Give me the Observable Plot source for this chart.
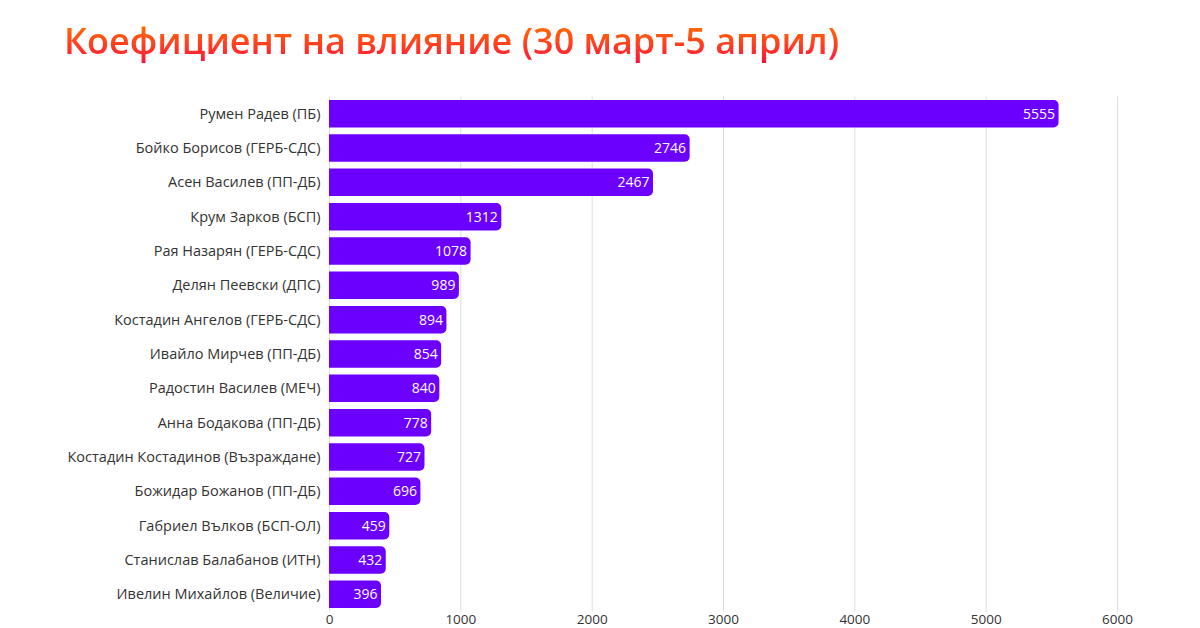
<!DOCTYPE html>
<html><head><meta charset="utf-8">
<script src="https://cdn.jsdelivr.net/npm/d3@7"></script>
<script src="https://cdn.jsdelivr.net/npm/@observablehq/plot@0.6"></script>
<style>
html,body{margin:0;padding:0;background:#fff;width:1200px;height:628px;overflow:hidden;}
#title{height:80px;box-sizing:border-box;padding:16px 0 0 64px;font-family:"Open Sans",sans-serif;font-weight:600;font-size:36px;line-height:50px;
background:linear-gradient(to bottom,#ff7000 30%,#ff1040 80%);-webkit-background-clip:text;background-clip:text;color:transparent;width:max-content;}
#chart svg{display:block;}
</style></head>
<body>
<div id="title">Коефициент на влияние (30 март-5 април)</div>
<div id="chart"></div>
<script>
const names = ["Румен Радев (ПБ)","Бойко Борисов (ГЕРБ-СДС)","Асен Василев (ПП-ДБ)","Крум Зарков (БСП)","Рая Назарян (ГЕРБ-СДС)","Делян Пеевски (ДПС)","Костадин Ангелов (ГЕРБ-СДС)","Ивайло Мирчев (ПП-ДБ)","Радостин Василев (МЕЧ)","Анна Бодакова (ПП-ДБ)","Костадин Костадинов (Възраждане)","Божидар Божанов (ПП-ДБ)","Габриел Вълков (БСП-ОЛ)","Станислав Балабанов (ИТН)","Ивелин Михайлов (Величие)"];
const values = [5555,2746,2467,1312,1078,989,894,854,840,778,727,696,459,432,396];
const xTicks = [0,1000,2000,3000,4000,5000,6000];
const data = names.map((n,i)=>({name:n,value:values[i]}));
const chart = Plot.plot({
  width:1200, height:548,
  marginLeft:329, marginRight:83, marginTop:16.5, marginBottom:16.5,
  style:{fontFamily:"Open Sans, sans-serif", fontSize:"14px", color:"#333", background:"#fff"},
  x:{domain:[0,6000], ticks:xTicks, label:null, tickSize:0, tickPadding:2, tickFormat:d=>String(d)},
  y:{domain:names, paddingInner:0.2, paddingOuter:0.1, round:false, label:null, tickSize:0, tickPadding:9},
  marks:[
    Plot.gridX(xTicks,{stroke:"#dcdcdc", strokeOpacity:1}),
    Plot.barX(data,{y:"name", x:"value", fill:"#6c00ff", rx2:5}),
    Plot.text(data,{y:"name", x:"value", text:d=>String(d.value), textAnchor:"end", dx:-4, fill:"#fff", fontSize:14}),
    Plot.axisX({ticks:xTicks, tickSize:0, tickPadding:2, label:null, fontSize:13.5, tickFormat:d=>String(d)}),
    Plot.axisY({tickSize:0, tickPadding:9, label:null, fontSize:14.5})
  ]
});
document.getElementById("chart").appendChild(chart);
</script>
</body></html>
